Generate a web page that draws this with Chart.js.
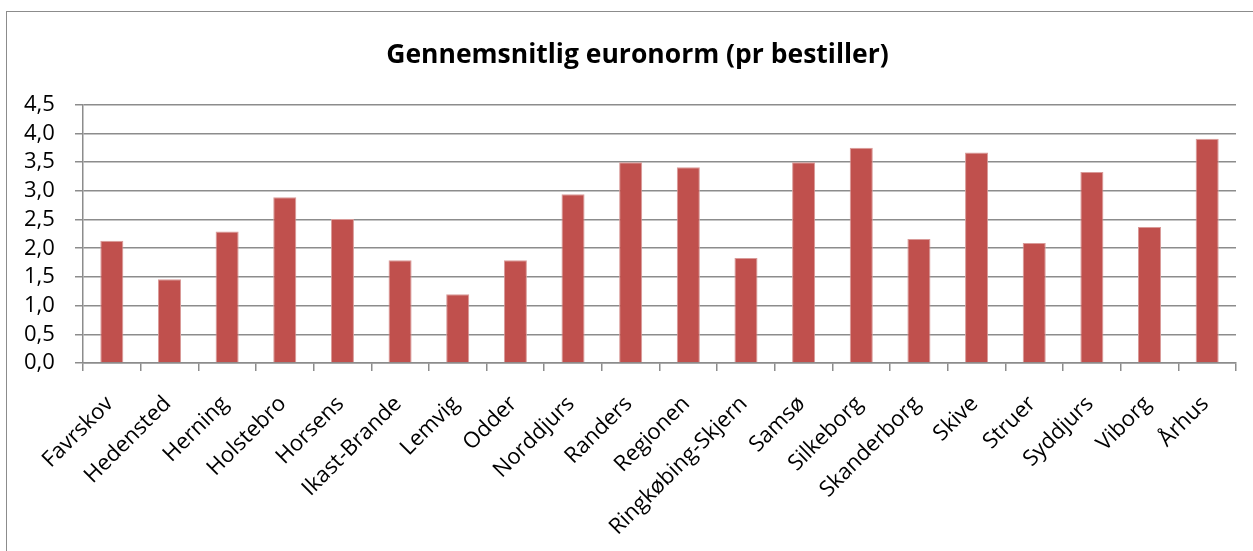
<!DOCTYPE html>
<html>
<head>
<meta charset="utf-8">
<script src="https://cdn.jsdelivr.net/npm/chart.js@4"></script>
<style>
  body { margin: 0; background: #fff; }
  #boks {
    position: absolute; left: 6px; top: 11px;
    width: 1246px; height: 545px;
    border: 1px solid #8c8c8c; background: #fff;
  }
</style>
</head>
<body>
<div id="boks"><canvas id="myChart"></canvas></div>
<script>
// kommuner langs x-aksen
const kommuner = ["Favrskov", "Hedensted", "Herning", "Holstebro", "Horsens", "Ikast-Brande",
  "Lemvig", "Odder", "Norddjurs", "Randers", "Regionen", "Ringkøbing-Skjern", "Samsø",
  "Silkeborg", "Skanderborg", "Skive", "Struer", "Syddjurs", "Viborg", "Århus"];
// gennemsnitlig euronorm pr bestiller
const euronorm = [2.13, 1.46, 2.29, 2.89, 2.51, 1.79, 1.20, 1.79, 2.94, 3.50, 3.41, 1.83,
  3.50, 3.75, 2.16, 3.67, 2.09, 3.33, 2.37, 3.91];
const titel = "Gennemsnitlig euronorm (pr bestiller)";

const myChart = document.getElementById("myChart");
const gra = "#8c8c8c";

new Chart(myChart, {
  type: "bar",
  data: {
    labels: kommuner,
    datasets: [{
      label: titel,
      data: euronorm,
      backgroundColor: "#c0504d",
      borderColor: "#d99a98",
      borderWidth: { left: 1, right: 1, top: 1, bottom: 0 },
      barPercentage: 0.4,
      categoryPercentage: 1
    }]
  },
  options: {
    responsive: true,
    maintainAspectRatio: false,
    animation: false,
    layout: { padding: { left: 32, right: 17, top: 0, bottom: 0 } },
    plugins: {
      legend: { display: false },
      tooltip: { enabled: false },
      title: {
        display: true,
        text: titel,
        color: "#000",
        font: { family: "Open Sans", size: 26.5, weight: "bold" },
        padding: { top: 28, bottom: 33 }
      }
    },
    scales: {
      x: {
        grid: { display: true, drawOnChartArea: false, offset: true, color: gra, lineWidth: 1.5, tickLength: 8 },
        border: { color: gra, width: 1.5 },
        ticks: {
          color: "#000",
          font: { family: "Open Sans", size: 22 },
          maxRotation: 45, minRotation: 45,
          autoSkip: false, padding: 20, labelOffset: -2
        },
        afterFit: (axis) => { axis.height = 194; }
      },
      y: {
        min: 0, max: 4.5,
        grid: { color: gra, lineWidth: 1.5, tickLength: 8 },
        border: { color: gra, width: 1.5 },
        ticks: {
          stepSize: 0.5,
          autoSkip: false,
          mirror: true,
          padding: -59,
          color: "#000",
          font: { family: "Open Sans", size: 22 },
          callback: (v) => v.toFixed(1).replace(".", ",")
        },
        afterFit: (axis) => { axis.width = 44; }
      }
    }
  }
});
</script>
</body>
</html>
